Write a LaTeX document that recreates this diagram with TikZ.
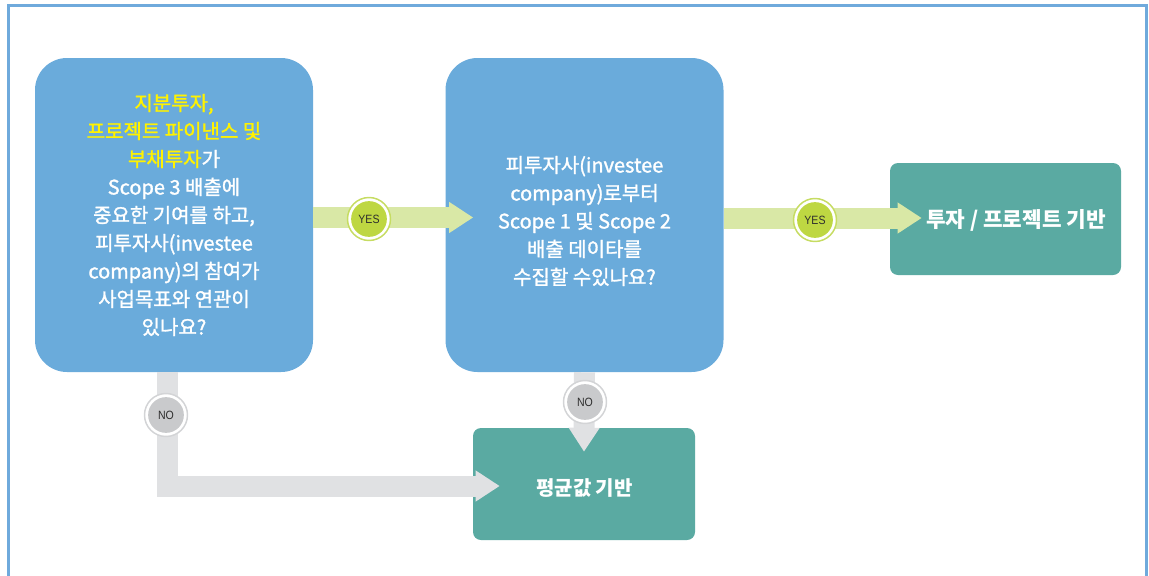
\documentclass[tikz,border=0pt]{standalone}
\usepackage{fontspec}
\setmainfont{Noto Sans CJK KR}
\newfontfamily\medfont{Noto Sans CJK KR}[FakeBold=1.4]
\newfontfamily\latfont{Liberation Sans}[FakeStretch=0.88]
\usetikzlibrary{arrows.meta,calc}
\definecolor{boxblue}{HTML}{6AABDB}
\definecolor{boxteal}{HTML}{5AAAA2}
\definecolor{hiyellow}{HTML}{FFF200}
\definecolor{yesband}{HTML}{D9E8A6}
\definecolor{yesfill}{HTML}{BED742}
\definecolor{yesring}{HTML}{C6DC62}
\definecolor{noband}{HTML}{E0E1E3}
\definecolor{nofill}{HTML}{C9CACC}
\definecolor{noring}{HTML}{D3D4D6}
\definecolor{framecol}{HTML}{6FAADC}
\definecolor{badgetext}{HTML}{2E2E2E}
\begin{document}
\begin{tikzpicture}[x=0.75pt,y=-0.75pt,
  bluebox/.style={fill=boxblue, rounded corners=24pt, minimum width=278*0.75pt, minimum height=314*0.75pt,
    align=center, text=white, inner sep=0pt, font=\medfont\fontsize{15}{21}\selectfont},
  tealbox/.style={fill=boxteal, rounded corners=6pt, minimum height=112*0.75pt,
    align=center, text=white, inner sep=0pt},
  tealtext/.style={text=white, font=\fontsize{16}{20}\selectfont\bfseries},
  yesarrow/.style={draw=yesband, line width=21*0.75pt, line cap=butt,
    -{Triangle[length=18pt, width=22pt]}},
  noarrow/.style={draw=noband, line width=21*0.75pt, line cap=butt, line join=miter,
    -{Triangle[length=18pt, width=22pt]}},
  badge/.style={circle, minimum size=43*0.75pt, inner sep=0pt, line width=1.1pt, fill=white,
    text=badgetext, font=\latfont\fontsize{9}{9}\selectfont},
  yesbadge/.style={badge, draw=yesring,
    path picture={\fill[yesfill] (path picture bounding box.center) circle (13.4pt);}},
  nobadge/.style={badge, draw=noring,
    path picture={\fill[nofill] (path picture bounding box.center) circle (13.4pt);}}
]
\useasboundingbox (0,0) rectangle (1149,575);
\draw[framecol, line width=2.4pt] (8.5,580) -- (8.5,5.5) -- (1146.5,5.5) -- (1146.5,580);

% boxes
\node[bluebox] (b1) at (174,215) {%
  {\color{hiyellow}지분투자,}\\
  {\color{hiyellow}프로젝트 파이낸스 및}\\
  {\color{hiyellow}부채투자}가\\
  Scope 3 배출에\\
  중요한 기여를 하고,\\
  피투자사(investee\\
  company)의 참여가\\
  사업목표와 연관이\\
  있나요?};
\node[bluebox] (b2) at (584.5,215) {};
\node[align=center, text=white, font=\medfont\fontsize{15}{21}\selectfont] (t2) at (584.5,221) {%
  피투자사(investee\\
  company)로부터\\
  Scope 1 및 Scope 2\\
  배출 데이타를\\
  수집할 수있나요?};
\node[tealbox, minimum width=231*0.75pt] (b3) at (1005.5,219) {};
\node[tealtext] (t3) at (1016,220) {투자 / 프로젝트 기반};
\node[tealbox, minimum width=222*0.75pt] (b4) at (584,484) {};
\node[tealtext, font=\fontsize{15}{20}\selectfont\bfseries] (t4) at (584.5,488) {평균값 기반};

% connectors
\draw[yesarrow] ($(b1.east)+(0,2.5)$) -- ($(b2.west)+(28,2.5)$);
\draw[yesarrow] ($(b2.east)+(0,3)$) -- ($(b3.west |- b2.east)+(32,3)$);
\draw[noarrow] ($(b1.south)+(-7,0)$) |- ($(b4.west)+(27,2)$);
\draw[noarrow] (b2.south) -- ($(b4.north)+(0,24)$);

% badges
\node[yesbadge] (y1) at (369,219) {YES};
\node[yesbadge] (y2) at (815,220) {YES};
\node[nobadge] (n1) at (166,415) {NO};
\node[nobadge] (n2) at (585,402) {NO};
\end{tikzpicture}
\end{document}
